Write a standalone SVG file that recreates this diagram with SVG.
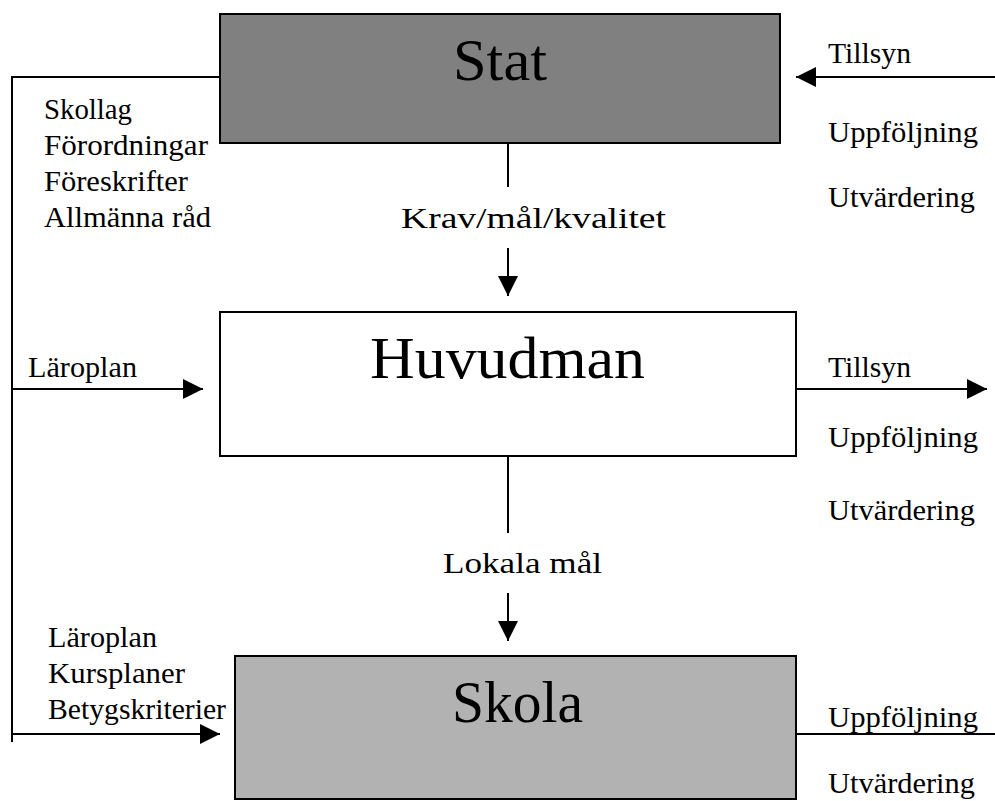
<svg xmlns="http://www.w3.org/2000/svg" width="995" height="801" viewBox="0 0 995 801">
<style>
.box{stroke:#000;stroke-width:2}
.big{font-family:"Liberation Serif","Times New Roman",serif;font-size:60px;fill:#000;text-anchor:middle}
.lbl{font-family:"Liberation Serif","Times New Roman",serif;font-size:30px;fill:#000}
.ln{stroke:#000;stroke-width:2;fill:none}
</style>
<defs>
<marker id="ah" markerUnits="userSpaceOnUse" markerWidth="20" markerHeight="20" refX="20" refY="10" orient="auto">
<path d="M0,0 L20,10 L0,20 z" fill="#000"/>
</marker>
</defs>
<rect width="995" height="801" fill="#fff"/>
<g id="connectors">
<polyline class="ln" points="220,77 12,77 12,742"/>
<line class="ln" x1="12" y1="389" x2="203" y2="389" marker-end="url(#ah)"/>
<line class="ln" x1="12" y1="734" x2="220" y2="734" marker-end="url(#ah)"/>
<line class="ln" x1="995" y1="77" x2="796" y2="77" marker-end="url(#ah)"/>
<line class="ln" x1="796" y1="389" x2="987" y2="389" marker-end="url(#ah)"/>
<line class="ln" x1="796" y1="734" x2="995" y2="734"/>
<line class="ln" x1="508" y1="143" x2="508" y2="187"/>
<line class="ln" x1="508" y1="248" x2="508" y2="296" marker-end="url(#ah)"/>
<line class="ln" x1="508" y1="456" x2="508" y2="533"/>
<line class="ln" x1="508" y1="593" x2="508" y2="641" marker-end="url(#ah)"/>
<text class="lbl" x="533.5" y="228" text-anchor="middle" textLength="265" lengthAdjust="spacingAndGlyphs">Krav/mål/kvalitet</text>
<text class="lbl" x="522.5" y="573" text-anchor="middle" textLength="159" lengthAdjust="spacingAndGlyphs">Lokala mål</text>
<text class="lbl" x="44" y="119" textLength="88" lengthAdjust="spacingAndGlyphs">Skollag</text>
<text class="lbl" x="44" y="155" textLength="164" lengthAdjust="spacingAndGlyphs">Förordningar</text>
<text class="lbl" x="44" y="191" textLength="144" lengthAdjust="spacingAndGlyphs">Föreskrifter</text>
<text class="lbl" x="44" y="227" textLength="167" lengthAdjust="spacingAndGlyphs">Allmänna råd</text>
<text class="lbl" x="828" y="63" textLength="83" lengthAdjust="spacingAndGlyphs">Tillsyn</text>
<text class="lbl" x="828" y="142" textLength="150" lengthAdjust="spacingAndGlyphs">Uppföljning</text>
<text class="lbl" x="828" y="207" textLength="147" lengthAdjust="spacingAndGlyphs">Utvärdering</text>
<text class="lbl" x="28" y="377" textLength="109" lengthAdjust="spacingAndGlyphs">Läroplan</text>
<text class="lbl" x="828" y="377" textLength="83" lengthAdjust="spacingAndGlyphs">Tillsyn</text>
<text class="lbl" x="828" y="447" textLength="150" lengthAdjust="spacingAndGlyphs">Uppföljning</text>
<text class="lbl" x="828" y="520" textLength="147" lengthAdjust="spacingAndGlyphs">Utvärdering</text>
<text class="lbl" x="48" y="647" textLength="109" lengthAdjust="spacingAndGlyphs">Läroplan</text>
<text class="lbl" x="48" y="683" textLength="137" lengthAdjust="spacingAndGlyphs">Kursplaner</text>
<text class="lbl" x="48" y="719" textLength="178" lengthAdjust="spacingAndGlyphs">Betygskriterier</text>
<text class="lbl" x="828" y="727" textLength="150" lengthAdjust="spacingAndGlyphs">Uppföljning</text>
<text class="lbl" x="828" y="793" textLength="147" lengthAdjust="spacingAndGlyphs">Utvärdering</text>
</g>
<g id="stat">
<rect class="box" x="220" y="14" width="560" height="129" fill="#808080"/>
<text class="big" x="500" y="80" textLength="94" lengthAdjust="spacingAndGlyphs">Stat</text>
</g>
<g id="huvudman">
<rect class="box" x="220" y="312" width="576" height="144" fill="#fff"/>
<text class="big" x="507.5" y="378" textLength="275" lengthAdjust="spacingAndGlyphs">Huvudman</text>
</g>
<g id="skola">
<rect class="box" x="235" y="656" width="561" height="143" fill="#b2b2b2"/>
<text class="big" x="517.5" y="722" textLength="131" lengthAdjust="spacingAndGlyphs">Skola</text>
</g>
</svg>
